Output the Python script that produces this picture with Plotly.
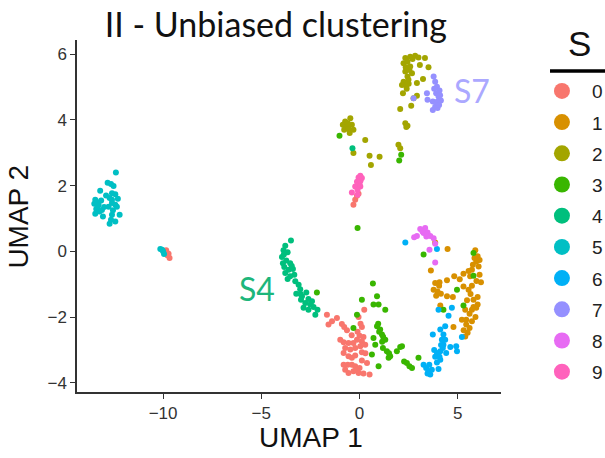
import plotly.graph_objects as go

# ---------------- data (UMAP coordinates) ----------------
clusters = ["0", "1", "2", "3", "4", "5", "6", "7", "8", "9"]
colors = ["#F8766D", "#D89000", "#A3A500", "#39B600", "#00BF7D",
          "#00BFC4", "#00B0F6", "#9590FF", "#E76BF3", "#FF62BC"]

c0_x = [-9.84, -9.72, -9.67, -9.78, -9.90, -0.13, -0.22, -0.31, -0.05,
        -1.66, -1.15, -1.58, -1.40, -0.90, -0.78, -0.64, -0.05, 0.24, 0.12, 0.00,
        0.20, 0.12, -0.13, -0.31, -0.56, -0.81, -0.98, -0.73, -0.47, -0.22, 0.04,
        0.29, -0.56, -0.39, -0.22, 0.12, 0.38, -0.73, -0.56, -0.31, -0.05, 0.20,
        0.51, -0.81, -0.39, -0.22, 0.12, -0.81, -0.10, 0.05, -0.40, 0.30, -0.60,
        0.00, -0.15]
c0_y = [0.03, -0.07, -0.20, -0.12, -0.02, 1.69, 1.57, 1.42, 1.75,
        -1.93, -2.03, -2.23, -2.13, -2.21, -2.30, -2.40, -2.00, -1.78, -2.30, -2.57,
        -2.61, -2.74, -2.69, -2.79, -2.79, -2.77, -2.69, -2.94, -2.99, -2.94, -2.89,
        -2.84, -3.19, -3.24, -3.17, -3.32, -3.40, -3.60, -3.70, -3.65, -3.70, -3.72,
        -3.75, -3.45, -3.45, -3.50, -3.07, -3.09, -2.45, -2.20, -2.55, -3.10, -3.45,
        -3.55, -3.62]

c1_x = [4.48, 5.89, 6.01, 6.11, 5.94, 5.77, 6.06, 5.72, 3.63, 4.45, 4.82, 5.29,
        5.63, 6.11, 6.18, 3.85, 4.07, 3.77, 3.97, 4.14, 3.90, 4.75, 5.29, 5.55,
        5.72, 6.01, 5.80, 5.47, 5.80, 6.01, 5.72, 5.38, 5.60, 5.21, 5.43, 5.72,
        5.43, 5.60, 5.50, 5.38, 4.78, 4.11, 5.94, 4.45, 3.85, 5.85, 5.95, 5.65,
        5.90, 5.30, 4.05, 5.10, 5.55]
c1_y = [0.07, 0.03, -0.15, -0.26, -0.31, -0.41, -0.46, -0.56, -0.58, -0.88, -0.76,
        -0.68, -0.76, -0.71, -0.94, -0.96, -0.94, -1.17, -1.22, -1.29, -1.35, -1.39,
        -1.07, -1.17, -1.05, -1.39, -1.47, -1.49, -1.69, -1.62, -1.78, -1.78, -1.90,
        -2.08, -2.08, -2.13, -2.23, -2.33, -2.48, -2.59, -2.30, -1.65, -1.72, -1.37,
        0.27, -0.20, -0.90, -1.30, -2.00, -2.40, -1.05, -0.85, -0.60]

c2_x = [2.33, 2.58, 2.83, 2.24, 2.44, 3.07, 3.33, 3.51, 2.33, 2.54, 2.44, 2.67,
        2.24, 2.16, 2.38, 2.92, 3.23, 2.21, 2.92, 2.63, 2.07, 2.33, 2.44, 2.38,
        1.98, 2.07, 2.75, 2.49, 2.58, 2.50, 2.35, 2.70, 2.40, 3.00,
        -0.47, -0.73, -0.85, -0.64, -0.39, -0.31, -0.78, -0.56, -0.60, -0.50,
        0.29, -0.31, 0.51, 1.02, 0.58]
c2_y = [5.88, 5.92, 5.95, 5.72, 5.77, 5.67, 5.88, 5.60, 5.47, 5.52, 5.32, 5.42,
        5.16, 5.06, 5.03, 5.12, 5.24, 4.81, 4.73, 4.43, 4.33, 3.90, 3.82, 3.78,
        3.24, 3.14, 4.66, 5.22, 5.62, 5.10, 5.60, 5.85, 4.95, 5.90,
        4.05, 3.95, 3.85, 3.80, 3.85, 3.70, 3.70, 3.72, 3.90, 3.60,
        3.39, 2.99, 2.91, 2.88, 2.63]

c3_x = [-2.17, 0.68, 0.71, 0.97, 1.31, 0.89, 0.12, -0.13, -0.31, 0.89, 1.05,
        1.14, 1.31, 0.71, 0.80, 1.19, 1.39, 1.56, 0.63, 0.97, 1.48, 2.07, 2.27,
        2.54, 3.00, 1.90, 1.00, 1.20, 0.95, 1.15, 1.50, -1.02, 2.12, 2.02, -0.10,
        3.26, 5.80, 5.80, 4.96, 5.29, 4.27, 2.16, 2.41, 2.67]
c3_y = [-1.25, -0.98, -1.62, -1.62, -1.78, -1.37, -1.47, -1.93, -2.33, -2.28,
        -2.38, -2.53, -2.69, -2.64, -2.84, -2.94, -3.04, -3.19, -3.14, -3.50,
        -3.24, -2.91, -3.35, -3.50, -3.24, -3.04, -2.45, -2.60, -2.20, -2.75,
        -3.10, 3.52, 2.94, 2.76, 0.71, -0.10, -0.05, -0.74, -1.17, -1.65, -1.78,
        -2.89, -3.40, -3.55]

c4_x = [-3.49, -3.78, -3.87, -3.66, -3.95, -3.73, -3.90, -3.53, -3.83, -3.61,
        -3.39, -3.78, -3.53, -3.32, -3.66, -3.27, -3.10, -3.02, -3.22, -2.93,
        -2.71, -2.98, -2.76, -2.51, -2.60, -2.34, -2.14, -2.25, -2.42, -2.85,
        -3.85, -3.45, -3.00, -2.60, -0.36]
c4_y = [0.33, 0.17, 0.03, -0.03, -0.17, -0.28, -0.36, -0.36, -0.48, -0.56,
        -0.54, -0.66, -0.76, -0.71, -0.84, -0.91, -1.02, -1.15, -1.29, -1.37,
        -1.25, -1.47, -1.57, -1.62, -1.78, -1.69, -1.78, -1.93, -1.52, -1.72,
        -0.10, -0.45, -1.30, -1.45, 3.14]

c5_x = [-12.40, -12.82, -12.65, -12.52, -13.20, -12.60, -12.43, -12.72, -12.60,
        -13.45, -13.36, -13.28, -12.60, -12.43, -12.35, -13.40, -13.23, -13.45,
        -13.06, -12.60, -12.21, -12.65, -12.43, -12.72, -13.33, -12.77, -13.11,
        -13.50, -13.15, -12.55, -12.90, -12.30, -13.00,
        -10.14, -10.00, -9.95, -10.05]
c5_y = [2.40, 2.09, 2.05, 1.99, 1.84, 1.77, 1.74, 1.62, 1.57, 1.57, 1.49, 1.42,
        1.47, 1.42, 1.36, 1.29, 1.21, 1.14, 1.06, 1.11, 1.11, 0.96, 0.91, 0.84,
        1.36, 1.36, 1.26, 1.45, 1.55, 1.25, 1.70, 1.60, 1.35,
        0.07, 0.00, -0.08, 0.05]

c6_x = [2.33, 3.94, 4.02, 4.70, 4.53, 4.36, 4.11, 3.73, 4.27, 4.36, 4.27, 4.24,
        4.11, 4.62, 4.92, 4.96, 3.94, 3.85, 4.11, 3.94, 4.07, 3.26, 3.39, 3.51,
        3.60, 3.68, 4.02, 5.21, 4.41, 4.19, 3.46, 3.55, 4.15, 3.80]
c6_y = [0.27, 0.07, -1.78, -1.72, -1.96, -2.28, -2.38, -2.53, -2.53, -2.69,
        -2.84, -2.94, -3.04, -2.91, -2.89, -3.04, -3.09, -3.21, -3.30, -3.38,
        -3.21, -3.45, -3.55, -3.65, -3.75, -3.60, -3.58, -2.61, -3.09, -2.69,
        -3.72, -3.45, -2.85, -3.00]

c7_x = [3.77, 3.85, 3.94, 4.07, 3.90, 4.02, 4.14, 3.73, 3.85, 3.97, 3.73, 3.43,
        3.46, 2.75, 3.95, 4.10, 3.80, 4.05]
c7_y = [5.32, 5.16, 5.01, 4.89, 4.81, 4.71, 4.59, 4.56, 4.40, 4.36, 4.30, 4.81,
        4.61, 4.66, 4.55, 4.75, 4.95, 4.45]

c8_x = [3.09, 3.34, 3.26, 3.46, 2.92, 2.78, 3.60, 3.77, 3.85, 3.56, 3.85, 3.20, 3.40]
c8_y = [0.68, 0.71, 0.56, 0.57, 0.47, 0.43, 0.47, 0.40, 0.23, 0.05, -0.34, 0.60, 0.45]

c9_x = [0.04, 0.12, -0.13, 0.00, -0.22, 0.04, -0.10, -0.39, -0.10, 0.05, -0.05]
c9_y = [2.30, 2.23, 2.12, 2.05, 1.97, 1.97, 1.87, 1.79, 1.72, 2.15, 2.25]

xs = [c0_x, c1_x, c2_x, c3_x, c4_x, c5_x, c6_x, c7_x, c8_x, c9_x]
ys = [c0_y, c1_y, c2_y, c3_y, c4_y, c5_y, c6_y, c7_y, c8_y, c9_y]

x_ticks = [-10, -5, 0, 5]
y_ticks = [-4, -2, 0, 2, 4, 6]

# ---------------- figure ----------------
fig = go.Figure()
for name, col, x, y in zip(clusters, colors, xs, ys):
    fig.add_trace(go.Scatter(
        x=x, y=y, mode="markers", name=name, showlegend=False,
        legendgroup=name,
        marker=dict(color=col, size=6, line=dict(width=0)),
        hoverinfo="x+y+name"))
# legend keys with the larger symbols of the original
for name, col in zip(clusters, colors):
    fig.add_trace(go.Scatter(
        x=[None], y=[None], mode="markers", name=name, legendgroup=name,
        marker=dict(color=col, size=16, line=dict(width=0))))

axis_common = dict(
    showgrid=False, zeroline=False, showline=True, linecolor="#333333",
    linewidth=1.5, ticks="outside", ticklen=5, tickwidth=1.2,
    tickcolor="#333333",
    tickfont=dict(family="Liberation Sans", size=17, color="#333333"),
)

fig.update_layout(
    width=605, height=458,
    margin=dict(l=77, r=104, t=40, b=66, autoexpand=False),
    paper_bgcolor="white", plot_bgcolor="white",
    xaxis=dict(range=[-14.38, 7.2], tickvals=x_ticks, **axis_common),
    yaxis=dict(range=[-4.28, 6.43], tickvals=y_ticks, **axis_common),
    title=dict(text="II - Unbiased clustering", x=0.456, xref="container",
               xanchor="center", y=0.945, yref="container", yanchor="middle",
               font=dict(family="Lato", size=34, color="#111111")),
    legend=dict(x=1.073, xanchor="left", y=0.909, yanchor="top",
                font=dict(family="Liberation Sans", size=19,
                          color="#222222"),
                itemwidth=50, tracegroupgap=3.5, bgcolor="rgba(0,0,0,0)"),
    showlegend=True,
)

fig.add_annotation(text="S4", x=-5.21, y=-1.14, xref="x", yref="y",
                   showarrow=False, xanchor="center", yanchor="middle",
                   font=dict(family="Lato", size=32, color="#1DB67B"))
fig.add_annotation(text="S7", x=5.73, y=4.90, xref="x", yref="y",
                   showarrow=False, xanchor="center", yanchor="middle",
                   font=dict(family="Lato", size=32, color="#ABA8FF"))
fig.add_annotation(text="UMAP 1", x=0.552, y=-0.13, xref="paper", yref="paper",
                   showarrow=False, xanchor="center", yanchor="middle",
                   font=dict(family="Liberation Sans", size=28,
                             color="#111111"))
fig.add_annotation(text="UMAP 2", x=-0.137, y=0.498, xref="paper", yref="paper",
                   showarrow=False, xanchor="center", yanchor="middle",
                   textangle=-90,
                   font=dict(family="Liberation Sans", size=28,
                             color="#111111"))
fig.add_annotation(text="S", x=1.186, y=0.99, xref="paper", yref="paper",
                   showarrow=False, xanchor="center", yanchor="middle",
                   font=dict(family="Liberation Sans", size=35,
                             color="#111111"))
fig.add_shape(type="line", xref="paper", yref="paper", x0=1.1156, x1=1.26,
              y0=0.912, y1=0.912, line=dict(color="black", width=3.5))

fig.write_html("out.html",
               config={"displayModeBar": False},
               post_script="document.body.style.margin='0px';")
